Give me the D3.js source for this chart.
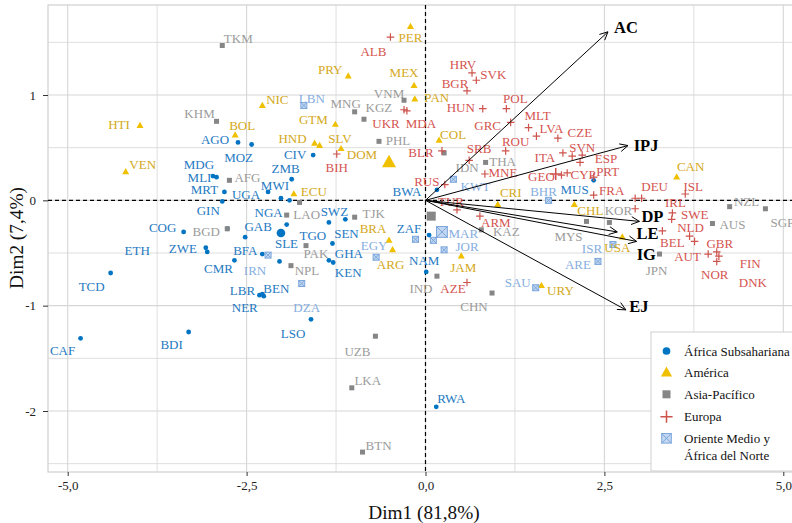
<!DOCTYPE html>
<html><head><meta charset="utf-8">
<script src="https://cdn.jsdelivr.net/npm/d3@7"></script>
<style>body{margin:0;background:#fff}svg{display:block;font-family:"Liberation Serif","Times New Roman",serif}</style>
</head><body><svg id="c" width="792" height="523"></svg>
<script>
// ---------- DATA ----------
const regionNames = ["África Subsahariana","América","Asia-Pacífico","Europa","Oriente Medio y África del Norte"];
const regionKeys = ["AFR","AME","ASP","EUR","MENA"];

const afrCodes = ["AGO","MOZ","MDG","MLI","MRT","GIN","UGA","MWI","ZMB","","NGA","GAB","BFA","SLE","CMR","BEN","LBR","NER","TGO","SWZ","SEN","GHA","KEN","LSO","NAM","COG","","ZWE","ETH","TCD","CAF","BDI","RWA","BWA","ZAF","MUS","CIV"];
const afrDim1 = [-2.62,-2.43,-2.97,-2.92,-2.81,-2.84,-2.20,-2.02,-1.87,-1.90,-1.94,-2.52,-2.28,-2.04,-2.67,-2.28,-2.32,-2.26,-1.35,-1.12,-1.30,-1.35,-1.29,-1.60,0.01,-3.38,-2.77,-3.07,-3.05,-4.40,-4.82,-3.31,0.15,0.16,0.05,2.35,-1.57];
const afrDim2 = [0.55,0.53,0.23,0.22,0.08,-0.01,0.08,0.02,0.20,0.00,-0.23,-0.35,-0.51,-0.58,-0.57,-0.89,-0.90,-0.91,-0.21,-0.18,-0.41,-0.57,-0.59,-1.13,-0.68,-0.30,-0.27,-0.45,-0.49,-0.69,-1.31,-1.25,-1.96,0.10,-0.33,0.19,0.43];

const ameCodes = ["HTI","VEN","BOL","NIC","PRY","PER","MEX","PAN","GTM","HND","","SLV","DOM","COL","ECU","BRA","ARG","JAM","CRI","CHL","USA","URY","CAN"];
const ameDim1 = [-3.99,-4.19,-2.66,-2.28,-1.08,-0.21,-0.16,-0.15,-1.26,-1.55,-1.48,-1.18,-0.51,0.19,-1.84,-0.51,-0.46,0.50,1.01,2.08,2.75,1.62,3.51];
const ameDim2 = [0.71,0.27,0.62,0.90,1.18,1.65,1.09,0.96,0.72,0.54,0.52,0.49,0.36,0.57,0.06,-0.38,-0.47,-0.53,-0.04,-0.04,-0.35,-0.81,0.22];

const aspCodes = ["TKM","KHM","AFG","BGD","MNG","KGZ","VNM","PHL","LAO","","TJK","PAK","NPL","UZB","LKA","BTN","IND","CHN","KAZ","THA","IDN","MYS","KOR","JPN","NZL","AUS","SGP"];
const aspDim1 = [-2.84,-2.92,-2.74,-2.77,-0.99,-0.86,-0.30,-0.65,-1.94,-1.76,-0.99,-1.67,-1.88,-0.70,-1.03,-0.88,0.16,0.93,0.78,0.84,0.26,2.25,2.57,3.27,4.25,4.01,4.75];
const aspDim2 = [1.47,0.75,0.19,-0.27,0.84,0.77,0.95,0.56,-0.14,-0.02,-0.16,-0.43,-0.62,-1.29,-1.78,-2.39,-0.72,-0.88,-0.28,0.36,0.45,-0.20,-0.21,-0.51,-0.06,-0.22,-0.08];

const eurCodes = ["ALB","UKR","MDA","BIH","BLR","HRV","SVK","BGR","HUN","POL","GRC","MLT","LVA","CZE","ROU","SRB","MNE","RUS","TUR","ARM","AZE","GEO","CYP","ITA","SVN","ESP","","PRT","FRA","DEU","","","ISL","IRL","SWE","BEL","NLD","AUT","GBR","FIN","NOR","DNK"];
const eurDim1 = [-0.49,-0.30,-0.26,-1.24,0.23,0.65,0.71,0.58,0.80,1.13,1.19,1.44,1.55,1.85,1.12,0.61,0.83,0.27,0.44,0.76,0.58,1.90,1.98,1.92,2.05,2.16,2.19,2.35,2.35,3.02,2.93,2.93,3.63,3.45,3.44,3.31,3.69,3.76,4.07,3.95,4.07,4.10];
const eurDim2 = [1.55,0.86,0.85,0.44,0.47,1.21,1.14,1.04,0.87,0.87,0.74,0.69,0.61,0.59,0.47,0.38,0.25,0.15,-0.09,-0.15,-0.78,0.24,0.26,0.45,0.42,0.36,0.43,0.22,0.05,0.02,0.02,-0.08,0.06,-0.12,-0.18,-0.29,-0.34,-0.39,-0.49,-0.51,-0.58,-0.53];

const menaCodes = ["LBN","KWT","BHR","MAR","JOR","EGY","","IRN","DZA","SAU","ARE","ISR"];
const menaDim1 = [-1.70,0.39,1.72,0.11,0.26,-0.69,-0.14,-2.20,-1.73,1.54,2.41,2.62];
const menaDim2 = [0.90,0.20,0.00,-0.38,-0.47,-0.54,-0.37,-0.52,-0.79,-0.83,-0.58,-0.42];

// group means
const meanDim1 = [-2.02,-0.51,0.08,1.82,0.23];
const meanDim2 = [-0.31,0.36,-0.15,0.25,-0.30];

// variables (arrows)
const varNames = ["AC","IPJ","DP","LE","IG","EJ"];
const varDim1 = [2.55,2.83,2.99,2.95,2.68,2.80];
const varDim2 = [1.60,0.52,-0.20,-0.39,-0.30,-1.04];

const xTicks = [-5,-2.5,0,2.5,5], xMinor = [-3.75,-1.25,1.25,3.75];
const yTicks = [-2,-1,0,1], yMinor = [-2.5,-1.5,-0.5,0.5,1.5];

// ---------- LAYOUT (label nudges in px, like ggrepel output) ----------
const nudge = {
AGO:[-23,-3],MOZ:[-13,13],MDG:[-14,-12],MLI:[-17,0],MRT:[-20,-2],GIN:[-14,9],UGA:[-22,3],MWI:[-6,-13],ZMB:[-6,-11],NGA:[-18,-12],GAB:[13,-11],BFA:[-17,-4],SLE:[7,-18],CMR:[-16,8],BEN:[14,-6],LBR:[-17,-5],NER:[-19,11],TGO:[-16,13],SWZ:[-11,-8],SEN:[14,-10],GHA:[20,-7],KEN:[15,10],LSO:[-18,14],NAM:[-2,-11],COG:[-21,-4],ZWE:[-23,1],ETH:[-70,-1],TCD:[-19,13],CAF:[-18,12],BDI:[-17,12],RWA:[15,-8],BWA:[-30,2],ZAF:[-20,-7],MUS:[-19,9],CIV:[-18,-1],
HTI:[-21,-1],VEN:[17,-7],BOL:[7,-10],NIC:[15,-6],PRY:[-18,-7],PER:[0,11],MEX:[-10,-13],PAN:[22,-2],GTM:[-22,-5],HND:[-22,-5],SLV:[-1,-10],DOM:[-27,-8],COL:[14,-6],ECU:[20,-3],BRA:[-16,-12],ARG:[-2,15],JAM:[2,11],CRI:[13,-12],CHL:[16,6],USA:[-5,10],URY:[19,5],CAN:[14,-11],
TKM:[16,-7],KHM:[-17,-8],AFG:[18,-3],BGD:[-21,3],MNG:[-9,-8],KGZ:[15,-12],VNM:[-15,-7],PHL:[19,-1],LAO:[20,-1],TJK:[19,-4],PAK:[10,8],NPL:[16,5],UZB:[-18,15],LKA:[16,-7],BTN:[16,-7],IND:[-16,12],CHN:[-18,13],KAZ:[25,2],THA:[17,-1],IDN:[23,15],MYS:[-18,15],KOR:[9,-12],JPN:[-3,16],NZL:[17,-5],AUS:[20,1],SGP:[17,14],
ALB:[-17,14],UKR:[-18,14],MDA:[14,13],BIH:[0,14],BLR:[-21,2],HRV:[-9,-8],SVK:[17,-6],BGR:[-12,-7],HUN:[-22,-1],POL:[9,-10],GRC:[-23,3],MLT:[9,-12],LVA:[15,-8],CZE:[22,-6],ROU:[10,-9],SRB:[10,-12],MNE:[18,-2],RUS:[-18,-3],TUR:[-6,-8],ARM:[16,6],AZE:[-14,6],GEO:[-20,1],CYP:[16,2],ITA:[-18,5],SVN:[10,-9],ESP:[26,-4],PRT:[14,-6],FRA:[18,-5],DEU:[13,-12],ISL:[8,-8],IRL:[3,-10],SWE:[23,-5],BEL:[10,12],NLD:[1,-9],AUT:[-7,15],GBR:[3,-8],FIN:[42,9],NOR:[-2,13],DNK:[34,26],
LBN:[8,-7],KWT:[22,7],BHR:[-5,-9],MAR:[30,-7],JOR:[23,-3],EGY:[-2,-12],IRN:[-13,15],DZA:[5,24],SAU:[-18,-5],ARE:[-20,3],ISR:[-21,4]
};
const varNudge = {AC:[18,-4],IPJ:[18,0],DP:[13,-5],LE:[11,-8],IG:[29,23],EJ:[13,-3]};

const pointCol = {AFR:"#0073C2",AME:"#EFC000",ASP:"#868686",EUR:"#CD534C",MENA:"#7AA6DC"};
const textCol  = {AFR:"#2479c2",AME:"#d4a820",ASP:"#9b9b9b",EUR:"#d4534f",MENA:"#86aee0"};

// ---------- BUILD ----------
const groups = [
 {key:"AFR",codes:afrCodes,d1:afrDim1,d2:afrDim2},
 {key:"AME",codes:ameCodes,d1:ameDim1,d2:ameDim2},
 {key:"ASP",codes:aspCodes,d1:aspDim1,d2:aspDim2},
 {key:"EUR",codes:eurCodes,d1:eurDim1,d2:eurDim2},
 {key:"MENA",codes:menaCodes,d1:menaDim1,d2:menaDim2}
];
const pts = [];
groups.forEach(g=>g.codes.forEach((c,i)=>pts.push({code:c,reg:g.key,x:g.d1[i],y:g.d2[i]})));

const svg = d3.select("#c");
const x = d3.scaleLinear().domain([-5,5]).range([67.7,783.3]);
const y = d3.scaleLinear().domain([-2,1]).range([411,95]);
const P = {l:48,r:800,t:5,b:472};

svg.append("rect").attr("width",792).attr("height",523).attr("fill","#fff");
svg.append("defs").append("clipPath").attr("id","pc").append("rect")
  .attr("x",P.l).attr("y",P.t).attr("width",P.r-P.l).attr("height",P.b-P.t);

const grid = svg.append("g");
grid.selectAll(".vx").data(xTicks.concat(xMinor)).join("line")
  .attr("x1",d=>x(d)).attr("x2",d=>x(d)).attr("y1",P.t).attr("y2",P.b)
  .attr("stroke","#d6d6d6").attr("stroke-width",d=>xTicks.includes(d)?1.1:0.8);
grid.selectAll(".hy").data(yTicks.concat(yMinor)).join("line")
  .attr("x1",P.l).attr("x2",P.r).attr("y1",d=>y(d)).attr("y2",d=>y(d))
  .attr("stroke","#d6d6d6").attr("stroke-width",d=>yTicks.includes(d)?1.1:0.8);
svg.append("rect").attr("x",P.l).attr("y",P.t).attr("width",P.r-P.l).attr("height",P.b-P.t)
  .attr("fill","none").attr("stroke","#cfcfcf").attr("stroke-width",1.2);

// axes
const loc = d3.formatLocale({decimal:",",thousands:".",grouping:[3],currency:["","€"],minus:"-"});
const ax = svg.append("g").attr("transform",`translate(0,${P.b})`)
  .call(d3.axisBottom(x).tickValues(xTicks).tickSize(4).tickPadding(5).tickFormat(loc.format(".1f")));
const ay = svg.append("g").attr("transform",`translate(${P.l},0)`)
  .call(d3.axisLeft(y).tickValues(yTicks).tickSize(5).tickPadding(7).tickFormat(loc.format("d")));
[ax,ay].forEach(a=>{a.select(".domain").remove();
  a.selectAll("line").attr("stroke","#333");
  a.selectAll("text").attr("fill","#222").style("font-size","13px").style("font-family","Liberation Serif");});

svg.append("text").attr("x",424).attr("y",512).attr("text-anchor","middle").attr("dominant-baseline","central")
  .style("font-size","19.3px").attr("fill","#111").text("Dim1 (81,8%)");
svg.append("text").attr("transform","translate(16,238) rotate(-90)").attr("text-anchor","middle").attr("dominant-baseline","central")
  .style("font-size","19.3px").attr("fill","#111").text("Dim2 (7,4%)");

const plot = svg.append("g").attr("clip-path","url(#pc)");
// origin dashed lines
plot.append("line").attr("x1",x(0)).attr("x2",x(0)).attr("y1",P.t).attr("y2",P.b)
  .attr("stroke","#000").attr("stroke-width",1.2).attr("stroke-dasharray","4,3");
plot.append("line").attr("x1",P.l).attr("x2",P.r).attr("y1",y(0)).attr("y2",y(0))
  .attr("stroke","#000").attr("stroke-width",1.2).attr("stroke-dasharray","4,3");

function symbol(g, reg, cx, cy, s){
  const c = pointCol[reg];
  if(reg==="AFR") g.append("circle").attr("cx",cx).attr("cy",cy).attr("r",2.4*s).attr("fill",c);
  else if(reg==="AME"){const w=7*s,h=6.2*s;
    g.append("path").attr("d",`M${cx},${cy-h*0.62}L${cx+w/2},${cy+h*0.38}L${cx-w/2},${cy+h*0.38}Z`).attr("fill",c);}
  else if(reg==="ASP"){const a=5*s; g.append("rect").attr("x",cx-a/2).attr("y",cy-a/2).attr("width",a).attr("height",a).attr("fill",c);}
  else if(reg==="EUR"){const a=3.8*s;
    g.append("path").attr("d",`M${cx-a},${cy}H${cx+a}M${cx},${cy-a}V${cy+a}`).attr("stroke",c).attr("stroke-width",1.2*Math.sqrt(s)).attr("fill","none");}
  else {const a=3*s;
    g.append("rect").attr("x",cx-a).attr("y",cy-a).attr("width",2*a).attr("height",2*a).attr("fill","#c3d7f0").attr("stroke",c).attr("stroke-width",1);
    g.append("path").attr("d",`M${cx-a},${cy-a}L${cx+a},${cy+a}M${cx+a},${cy-a}L${cx-a},${cy+a}`).attr("stroke",c).attr("stroke-width",1);}
}

const pg = plot.append("g");
pts.forEach(p=>symbol(pg,p.reg,x(p.x),y(p.y),1));
regionKeys.forEach((k,i)=>symbol(pg,k,x(meanDim1[i]),y(meanDim2[i]),k==="AME"?2:k==="EUR"?1.6:1.8));

// labels
const lg = plot.append("g").style("font-size","13px");
pts.filter(p=>p.code).forEach(p=>{
  const n = nudge[p.code]||[0,-10];
  lg.append("text").attr("x",x(p.x)+n[0]).attr("y",y(p.y)+n[1]).attr("text-anchor","middle")
    .attr("dominant-baseline","central").attr("fill",textCol[p.reg]).text(p.code);
});

// arrows
const ag = plot.append("g");
varNames.forEach((v,i)=>{
  const x0=x(0),y0=y(0),x1=x(varDim1[i]),y1=y(varDim2[i]);
  const ang=Math.atan2(y1-y0,x1-x0), L=9, sp=0.45;
  ag.append("line").attr("x1",x0).attr("y1",y0).attr("x2",x1).attr("y2",y1).attr("stroke","#000").attr("stroke-width",1);
  ag.append("path").attr("d",`M${x1-L*Math.cos(ang-sp)},${y1-L*Math.sin(ang-sp)}L${x1},${y1}L${x1-L*Math.cos(ang+sp)},${y1-L*Math.sin(ang+sp)}`)
    .attr("stroke","#000").attr("fill","none").attr("stroke-width",1);
  const n=varNudge[v];
  ag.append("text").attr("x",x1+n[0]).attr("y",y1+n[1]).attr("text-anchor","middle").attr("dominant-baseline","central")
    .style("font-size","16.5px").style("font-weight","bold").attr("fill","#000").text(v);
});

// legend
const leg = svg.append("g");
leg.append("rect").attr("x",651).attr("y",332).attr("width",160).attr("height",139).attr("fill","#fff").attr("stroke","#cfcfcf").attr("stroke-width",1);
const legY = [351,372.7,394.3,416.7,438.3];
regionKeys.forEach((k,i)=>{
  symbol(leg,k,666.5,legY[i],1.6);
  const t = leg.append("text").attr("x",684).attr("y",legY[i]).attr("dominant-baseline","central").style("font-size","13px").attr("fill","#111");
  if(k==="MENA"){t.append("tspan").text("Oriente Medio y");
    leg.append("text").attr("x",684).attr("y",legY[i]+16.7).attr("dominant-baseline","central").style("font-size","13px").attr("fill","#111").text("África del Norte");}
  else t.text(regionNames[i]);
});
</script></body></html>
